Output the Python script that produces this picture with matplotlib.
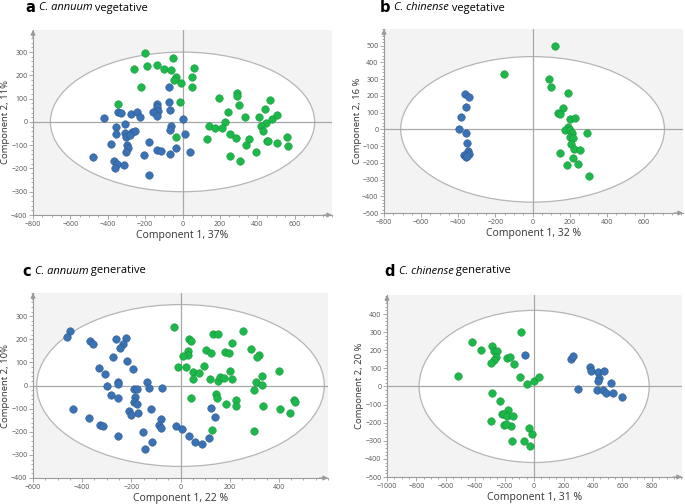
import matplotlib
matplotlib.use("Agg")
import matplotlib.pyplot as plt
import numpy as np
from matplotlib.patches import Ellipse
from matplotlib.ticker import MultipleLocator

plt.rcParams['font.family'] = ['Open Sans', 'DejaVu Sans']

BLUE = '#3a72b6'
GREEN = '#1cb84a'

# a  C. annuum vegetative
a_green_x = [-200, -51, -257, -190, -136, -99, -63, -33, -48, -7, 63, 51, 53, -224, -12, -347, -33,
             194, 289, 292, 305, 241, 467, 440, 335, 225, 143, 173, 213, 407, 477, 507, 449, 419, 433,
             255, 287, 129, 357, 342, 451, 460, 504, 560, 562, 394, 252, 310]
a_green_y = [298, 274, 229, 240, 244, 227, 221, 195, 181, 166, 231, 192, 148, 148, 85, 76, -66,
             102, 123, 112, 73, 43, 96, 55, 19, 1, -17, -27, -27, 20, 14, 29, -4, -17, -37,
             -53, -67, -73, -75, -99, -80, -82, -89, -66, -103, -131, -146, -169]
a_blue_x = [-421, -347, -329, -278, -241, -227, -136, -134, -129, -157, -139, -72, -72, -65, 2,
            -354, -308, -354, -306, -303, -271, -254, -283, -60, -69, 14, -380, -298, -290, -301,
            -181, -139, -116, -33, -65, -204, 40, -481, -368, -350, -315, -359, -181]
a_blue_y = [16, 42, 40, 33, 42, 23, 76, 62, 47, 42, 26, 149, 86, 52, 11,
            -23, -9, -53, -49, -66, -42, -37, -56, -17, -34, -50, -95, -100, -113, -128,
            -86, -121, -125, -113, -138, -142, -129, -151, -169, -181, -186, -198, -230]

# b  C. chinense vegetative
b_green_x = [123, -155, 88, 100, 190, 163, 137, 149, 199, 228, 193, 176, 202, 214, 295, 200, 220,
             207, 221, 257, 146, 218, 183, 243, 302]
b_green_y = [496, 332, 300, 256, 216, 130, 100, 92, 62, 66, 12, -4, -4, -20, -20, -44, -54,
             -90, -120, -124, -140, -174, -214, -208, -280]
b_blue_x = [-362, -343, -360, -383, -396, -360, -355, -348, -369, -344, -360, -352]
b_blue_y = [212, 196, 132, 76, 0, -24, -80, -128, -154, -148, -164, -158]

# c  C. annuum generative
c_blue_x = [-449, -460, -369, -357, -262, -223, -232, -248, -276, -216, -194, -331, -307, -256, -253,
            -298, -135, -127, -74, -188, -178, -282, -256, -185, -191, -178, -436, -122, -208, -201,
            -173, -371, -328, -317, -80, -89, -79, -17, 7, -255, -151, -114, -145, 34, 59, 87, 114,
            125, 141]
c_blue_y = [235, 211, 193, 179, 199, 206, 179, 163, 124, 105, 71, 76, 48, 16, 6,
            -3, 13, -12, -9, -13, -16, -42, -52, -49, -71, -78, -102, -102, -111, -128,
            -121, -139, -172, -175, -143, -169, -182, -175, -190, -219, -202, -244, -276, -219, -244, -251, -229,
            -97, -136]
c_green_x = [-28, 34, 43, 134, 154, 253, 103, 124, 29, 32, 9, 181, 197, 210, 288, 318, 311, -11, 23,
             49, 74, 97, 201, 49, 119, 154, 160, 177, 208, 307, 331, 331, 401, 44, 146, 150, 184,
             225, 225, 300, 335, 405, 445, 461, 465, 130, 298]
c_green_y = [254, 199, 193, 221, 222, 237, 153, 141, 150, 130, 128, 146, 139, 185, 156, 131, 124, 78, 81,
             58, 52, 85, 63, 29, 30, 20, 35, 33, 27, 16, 4, 42, 61, -56, -38, -52, -81,
             -64, -87, -20, -89, -102, -118, -62, -71, -194, -196]

# d  C. chinense generative
d_green_x = [-90, -421, -360, -288, -275, -252, -259, -275, -293, -187, -162, -135, -516, -95, -50, 0, 36,
             -288, -230, -180, -221, -203, -187, -144, -293, -203, -158, -191, -34, -14, -151, -68, -29]
d_green_y = [303, 248, 199, 226, 195, 195, 162, 147, 130, 158, 162, 125, 57, 51, 15, 29, 51,
             -35, -83, -129, -154, -151, -164, -164, -191, -211, -221, -206, -228, -265, -301, -303, -331]
d_blue_x = [-61, 248, 266, 378, 387, 435, 473, 441, 432, 520, 295, 428, 466, 491, 536, 597]
d_blue_y = [175, 153, 166, 107, 85, 79, 85, 48, 28, 18, -15, -22, -17, -35, -37, -59]


def draw_panel(ax, series, xlim, ylim, xticks, yticks, ell, xlab, ylab, ylab_px):
    ax.set_facecolor('#f3f3f3')
    ax.add_patch(Ellipse((0, 0), 2 * ell[0], 2 * ell[1], facecolor='white',
                         edgecolor='#b5b5b5', lw=0.9, zorder=1))
    ax.axhline(0, color='#a8a8a8', lw=0.9, zorder=2)
    ax.axvline(0, color='#a8a8a8', lw=0.9, zorder=2)
    for xs, ys, c in series:
        ax.scatter(xs, ys, s=30, color=c, edgecolor='#2b4f7a' if c == BLUE else '#128a34',
                   linewidth=0.3, zorder=3)
    ax.set_xlim(*xlim)
    ax.set_ylim(*ylim)
    ax.set_xticks(xticks)
    ax.set_yticks(yticks)
    ax.xaxis.set_minor_locator(MultipleLocator(50))
    ax.yaxis.set_minor_locator(MultipleLocator(20))
    for s in ['top', 'right']:
        ax.spines[s].set_visible(False)
    for s in ['left', 'bottom']:
        ax.spines[s].set_color('#9a9a9a')
        ax.spines[s].set_linewidth(0.8)
    ax.tick_params(which='both', colors='#9a9a9a', labelcolor='#555555', labelsize=5, width=0.6)
    ax.tick_params(which='major', length=3, pad=1)
    ax.tick_params(which='minor', length=1.5)
    ax.annotate('', xy=(1.0, 0), xytext=(0.97, 0), xycoords='axes fraction',
                arrowprops=dict(arrowstyle='-|>', color='#9a9a9a', lw=0.8,
                                mutation_scale=7, shrinkA=0, shrinkB=0))
    ax.annotate('', xy=(0, 1.0), xytext=(0, 0.96), xycoords='axes fraction',
                arrowprops=dict(arrowstyle='-|>', color='#9a9a9a', lw=0.8,
                                mutation_scale=7, shrinkA=0, shrinkB=0))
    ax.set_xlabel(xlab, fontsize=7.5, color='#333333', labelpad=1.5)
    ax.set_ylabel(ylab, fontsize=6.8, color='#333333', va='center')
    # place the y label a fixed number of pixels left of the axes
    w_px = ax.get_position().width * W
    ax.yaxis.set_label_coords(-ylab_px / w_px, 0.5)


fig = plt.figure(figsize=(6.85, 5.04), dpi=100)
W, H = 685, 504


def add_axes_px(l, t, r, b):
    return fig.add_axes([l / W, 1 - b / H, (r - l) / W, (b - t) / H])


axa = add_axes_px(33, 30, 332, 215)
axb = add_axes_px(384, 29, 683, 213)
axc = add_axes_px(33, 293, 328, 478)
axd = add_axes_px(387, 295, 682, 477)

draw_panel(axa, [(a_blue_x, a_blue_y, BLUE), (a_green_x, a_green_y, GREEN)],
           (-800, 800), (-400, 395), range(-800, 601, 200), range(-400, 301, 100),
           (707, 300), 'Component 1, 37%', 'Component 2, 11%', 27)
draw_panel(axb, [(b_blue_x, b_blue_y, BLUE), (b_green_x, b_green_y, GREEN)],
           (-800, 810), (-500, 600), range(-800, 601, 200), range(-500, 501, 100),
           (710, 435), 'Component 1, 32 %', 'Component 2, 16 %', 27)
draw_panel(axc, [(c_blue_x, c_blue_y, BLUE), (c_green_x, c_green_y, GREEN)],
           (-600, 600), (-400, 400), range(-600, 401, 200), range(-400, 301, 100),
           (585, 350), 'Component 1, 22 %', 'Component 2, 10%', 27)
draw_panel(axd, [(d_blue_x, d_blue_y, BLUE), (d_green_x, d_green_y, GREEN)],
           (-1000, 1005), (-500, 505), range(-1000, 801, 200), range(-500, 401, 100),
           (782, 420), 'Component 1, 31 %', 'Component 2, 20 %', 27)

titles = [('a', 'C. annuum', ' vegetative', 25, 8),
          ('b', 'C. chinense', ' vegetative', 380, 8),
          ('c', 'C. annuum', ' generative', 22, 271),
          ('d', 'C. chinense', ' generative', 384, 271)]
renderer = fig.canvas.get_renderer()
for letter, species, rest, px, py in titles:
    t1 = fig.text(px / W, 1 - py / H, letter, fontsize=10.5, fontweight='bold',
                  family='DejaVu Sans', va='center', ha='left')
    bb = t1.get_window_extent(renderer)
    x2 = bb.x1 + 4
    t2 = fig.text(x2 / W, 1 - py / H, species, fontsize=8, style='italic',
                  va='center', ha='left')
    bb2 = t2.get_window_extent(renderer)
    fig.text(bb2.x1 / W, 1 - py / H, rest, fontsize=8, va='center', ha='left')

fig.savefig('out.png', dpi=100)
